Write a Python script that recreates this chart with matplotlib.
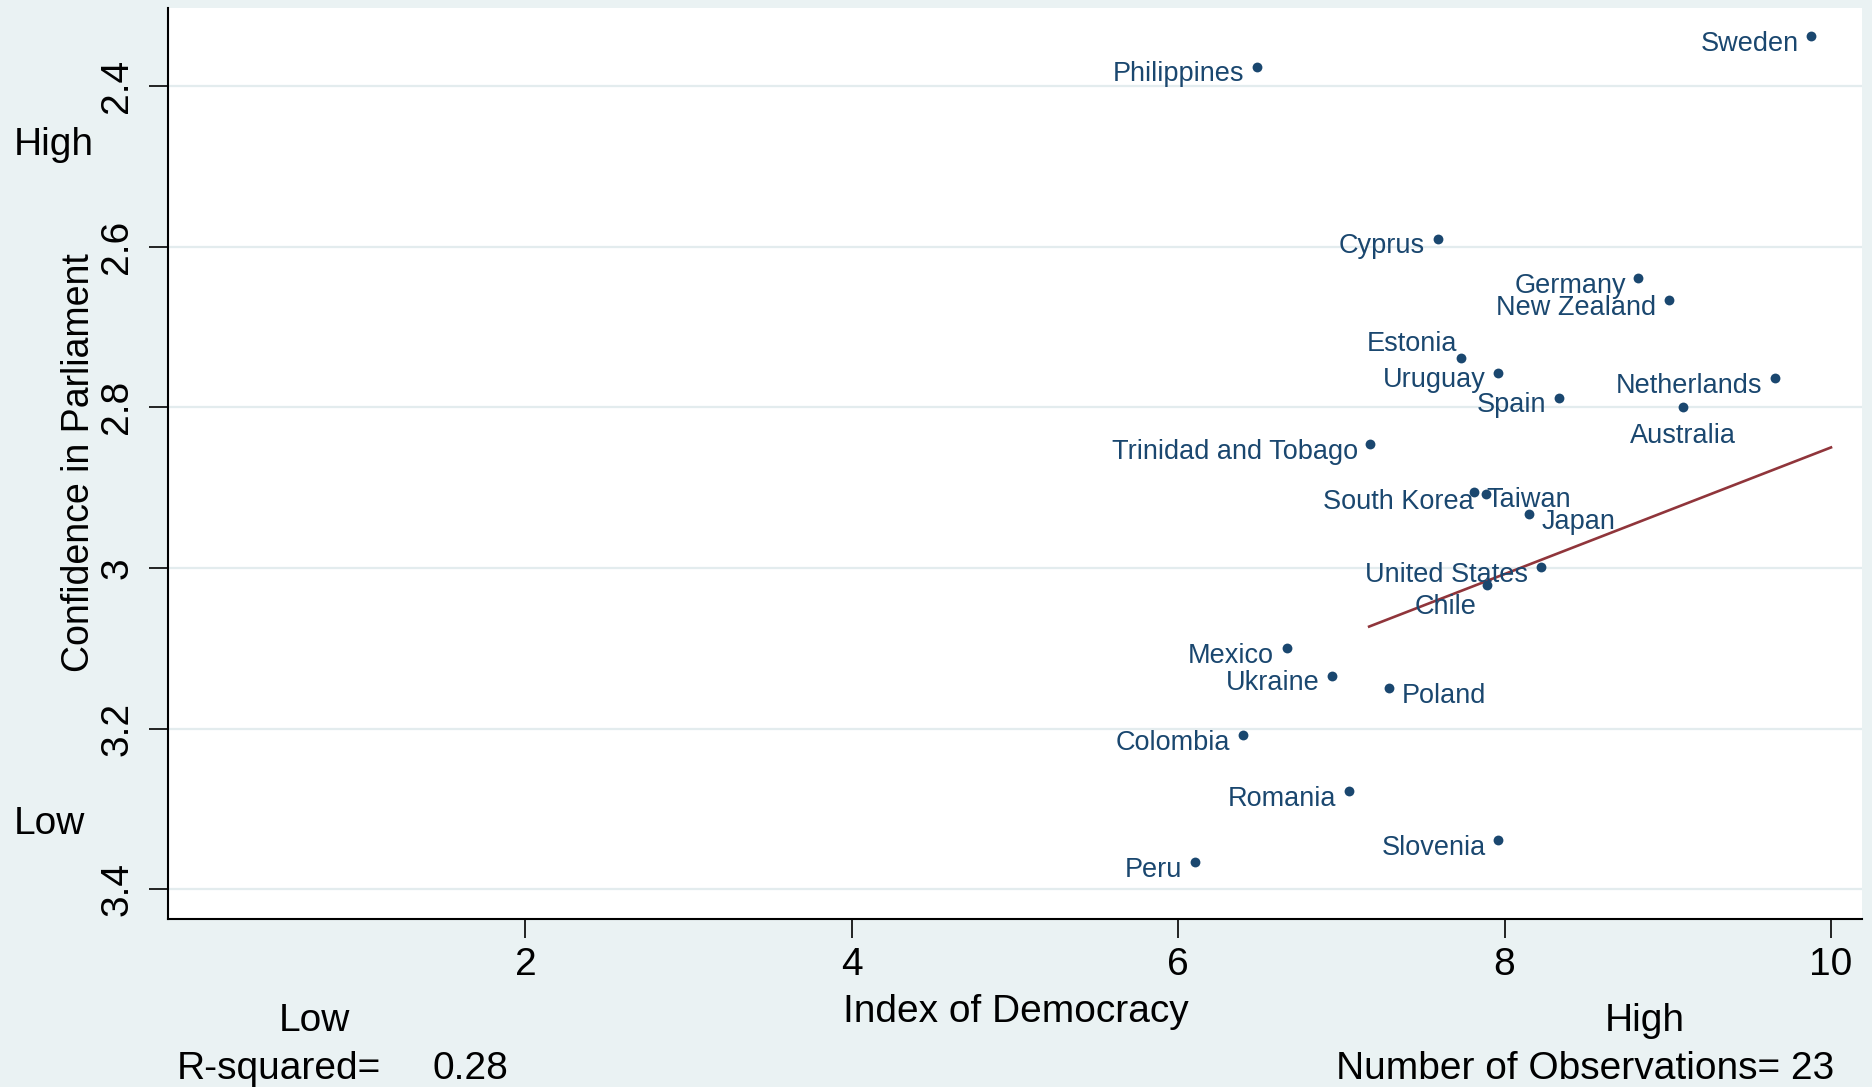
import matplotlib.pyplot as plt

plt.rcParams['font.family'] = ['Liberation Sans', 'DejaVu Sans']

# Data (confidence scale runs 1 = high ... 4 = low)
countries = ['Sweden', 'Philippines', 'Cyprus', 'Germany', 'New Zealand', 'Estonia',
             'Uruguay', 'Netherlands', 'Spain', 'Australia', 'Trinidad and Tobago',
             'Taiwan', 'South Korea', 'Japan', 'United States', 'Chile', 'Mexico',
             'Ukraine', 'Poland', 'Colombia', 'Romania', 'Slovenia', 'Peru']
democracy = [9.88, 6.48, 7.59, 8.82, 9.005, 7.733, 7.96, 9.656, 8.333, 9.093, 7.177,
             7.81, 7.887, 8.15, 8.223, 7.894, 6.665, 6.943, 7.294, 6.395, 7.046, 7.96, 6.102]
confidence = [2.338, 2.376, 2.59, 2.639, 2.667, 2.739, 2.757, 2.764, 2.788, 2.80, 2.846,
              2.906, 2.908, 2.933, 2.999, 3.021, 3.10, 3.134, 3.15, 3.208, 3.278, 3.339, 3.366]

# marker label clock positions (Stata style)
label_pos = [9, 9, 9, 9, 9, 11, 9, 9, 9, 6, 9, 3, 9, 3, 9, 7, 9, 9, 3, 9, 9, 9, 9]

# fitted line endpoints
fit_x = [7.17, 10.0]
fit_y = [3.073, 2.850]

r_squared = 0.28
n_obs = 23

x_ticks = [2, 4, 6, 8, 10]
y_ticks = [2.4, 2.6, 2.8, 3.0, 3.2, 3.4]
y_tick_labels = ['2.4', '2.6', '2.8', '3', '3.2', '3.4']

bg = '#eaf2f3'
navy = '#1a476f'
maroon = '#90353b'

W, H = 1872, 1087
fig = plt.figure(figsize=(W / 100, H / 100), dpi=100, facecolor=bg)
ax = fig.add_axes([168 / W, 1 - 919 / H, (1862 - 168) / W, (919 - 8) / H])
ax.set_facecolor('white')

ax.set_xlim(-0.19, 10.19)
ax.set_ylim(3.437, 2.303)

for y in y_ticks:
    ax.axhline(y, color='#e3ecee', lw=1.6, zorder=0)

ax.scatter(democracy, confidence, s=50, color=navy, zorder=3, linewidths=0)
ax.plot(fit_x, fit_y, color=maroon, lw=1.9, zorder=2)

offsets = {
    9: (-9, -5.5, 'right'),
    3: (9, -5.5, 'left'),
    11: (-3, 10, 'right'),
    7: (-8, -16, 'right'),
    6: (0, -20.5, 'center'),
}
for name, x, y, p in zip(countries, democracy, confidence, label_pos):
    dx, dy, ha = offsets[p]
    ax.annotate(name, (x, y), xytext=(dx, dy), textcoords='offset points',
                ha=ha, va='center', fontsize=19.5, color=navy, zorder=4)

for side in ['top', 'right']:
    ax.spines[side].set_visible(False)
for side in ['left', 'bottom']:
    ax.spines[side].set_linewidth(1.5)

ax.set_xticks(x_ticks)
ax.set_xticklabels([str(t) for t in x_ticks])
ax.set_yticks(y_ticks)
ax.set_yticklabels(y_tick_labels, rotation=90, va='center')
ax.tick_params(axis='both', length=14, width=1.2, labelsize=28)
ax.tick_params(axis='x', pad=6.5)
ax.tick_params(axis='y', pad=9.5)


def ftext(x, y, s, size=28, **kw):
    fig.text(x / W, 1 - y / H, s, fontsize=size, **kw)


ftext(79, 463, 'Confidence in Parliament', size=27, rotation=90, ha='center', va='center')
ftext(14, 145, 'High', ha='left', va='center')
ftext(14, 824, 'Low', ha='left', va='center')
ftext(1016, 1012, 'Index of Democracy', ha='center', va='center')
ftext(314, 1021, 'Low', ha='center', va='center')
ftext(1645, 1021, 'High', ha='center', va='center')
ftext(177, 1069, 'R-squared=', ha='left', va='center')
ftext(432, 1069, f'{r_squared:.2f}', ha='left', va='center')
ftext(1834, 1069, f'Number of Observations= {n_obs}', ha='right', va='center')

fig.savefig('out.png', dpi=100, facecolor=bg)
